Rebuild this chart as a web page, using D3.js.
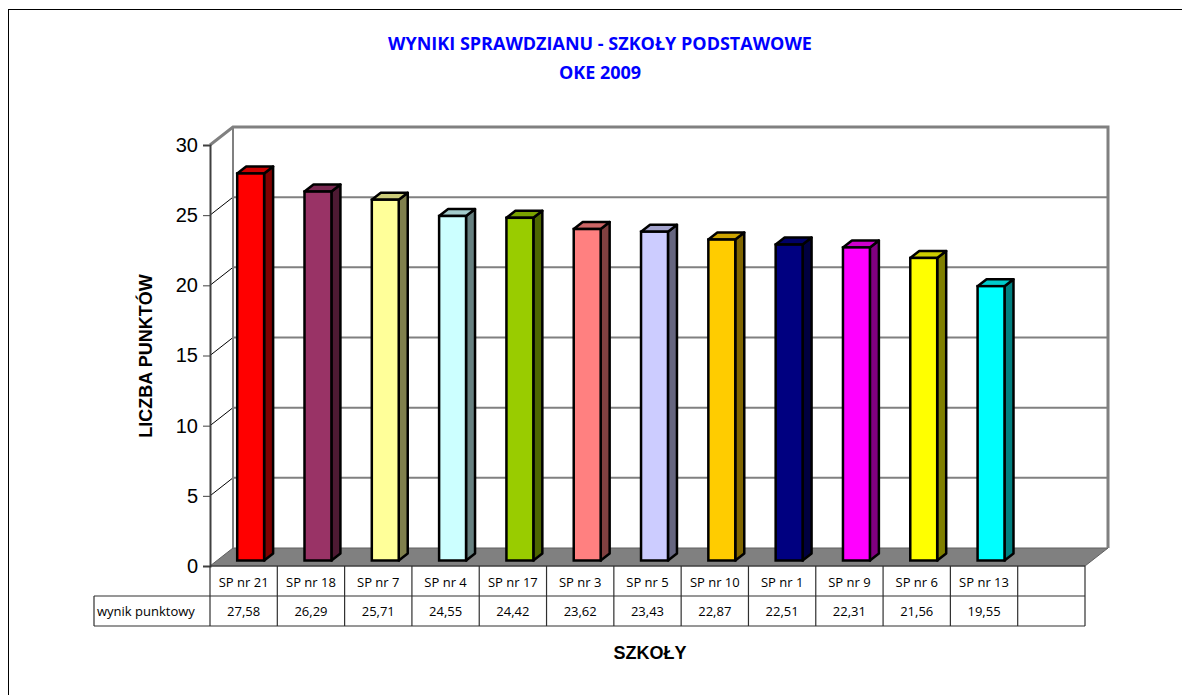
<!DOCTYPE html>
<html>
<head>
<meta charset="utf-8">
<script src="https://d3js.org/d3.v7.min.js"></script>
<style>
  body { margin: 0; background: #fff; }
  svg { display: block; }
</style>
</head>
<body>
<svg id="canvas"></svg>
<script>
// data
const schools = ["SP nr 21", "SP nr 18", "SP nr 7", "SP nr 4", "SP nr 17", "SP nr 3",
                 "SP nr 5", "SP nr 10", "SP nr 1", "SP nr 9", "SP nr 6", "SP nr 13"];
const scores = [27.58, 26.29, 25.71, 24.55, 24.42, 23.62, 23.43, 22.87, 22.51, 22.31, 21.56, 19.55];
const barColors = ["#FF0000", "#993366", "#FFFF99", "#CCFFFF", "#99CC00", "#FF8080",
                   "#CCCCFF", "#FFCC00", "#000080", "#FF00FF", "#FFFF00", "#00FFFF"];
const yTicks = [0, 5, 10, 15, 20, 25, 30];
const rowLabel = "wynik punktowy";

const width = 1182;
const height = 695;

// 3d depth of the plot box and of each bar
const depthX = 23, depthY = -18;
const barDX = 9, barDY = -7;
const barOffX = 7, barOffY = -5.5;

let canvas = d3.select('#canvas')
  .attr('width', width)
  .attr('height', height);

// outer chart border (only top/left visible)
canvas.append('rect')
  .attr('x', 8.5).attr('y', 9.5)
  .attr('width', 1300).attr('height', 800)
  .attr('fill', 'none')
  .attr('stroke', '#000')
  .attr('stroke-width', 1);

let slots = schools.concat([" "]);
let xScale = d3.scaleBand().domain(slots).range([210, 1085]);
let yScale = d3.scaleLinear().domain([0, 30]).range([566, 145]);

let x0 = xScale.range()[0], x1 = xScale.range()[1];
let yTop = yScale(30), yBot = yScale(0);

// floor
canvas.append('path')
  .attr('d', `M${x0},${yBot} L${x1},${yBot} L${x1 + depthX},${yBot + depthY} L${x0 + depthX},${yBot + depthY} Z`)
  .attr('fill', '#808080')
  .attr('stroke', '#606060')
  .attr('stroke-width', 1);

// back wall gridlines
canvas.selectAll('.grid')
  .data(yTicks.filter(d => d > 0 && d < 30))
  .enter()
  .append('line')
  .attr('class', 'grid')
  .attr('x1', x0 + depthX).attr('x2', x1 + depthX)
  .attr('y1', d => yScale(d) + depthY).attr('y2', d => yScale(d) + depthY)
  .attr('stroke', '#808080')
  .attr('stroke-width', 2);

// side wall diagonals
canvas.selectAll('.diag')
  .data(yTicks.filter(d => d > 0 && d < 30))
  .enter()
  .append('line')
  .attr('class', 'diag')
  .attr('x1', x0).attr('x2', x0 + depthX)
  .attr('y1', d => yScale(d)).attr('y2', d => yScale(d) + depthY)
  .attr('stroke', '#000')
  .attr('stroke-width', 1);

// back wall frame
canvas.append('path')
  .attr('d', `M${x0},${yTop} L${x0 + depthX},${yTop + depthY} L${x1 + depthX},${yTop + depthY} L${x1 + depthX},${yBot + depthY}`)
  .attr('fill', 'none')
  .attr('stroke', '#808080')
  .attr('stroke-width', 3);
canvas.append('line')
  .attr('x1', x0 + depthX).attr('x2', x0 + depthX)
  .attr('y1', yTop + depthY).attr('y2', yBot + depthY)
  .attr('stroke', '#808080')
  .attr('stroke-width', 2);

// y axis
let yAxis = d3.axisLeft(yScale).tickValues(yTicks).tickSize(7).tickPadding(5);
let yG = canvas.append('g')
  .attr('transform', `translate(${x0},0)`)
  .call(yAxis);
yG.select('.domain').attr('stroke', '#404040').attr('stroke-width', 2);
yG.selectAll('.tick line').attr('stroke', '#404040').attr('stroke-width', 1);
yG.selectAll('.tick text')
  .attr('font-family', 'Liberation Sans, Arial, sans-serif')
  .attr('font-size', 20)
  .attr('fill', '#000');

// bars
let bw = xScale.bandwidth() * 0.4;
let shade = (c, k) => {
  let r = d3.rgb(c);
  return d3.rgb(r.r * k, r.g * k, r.b * k).formatHex();
};

let bars = canvas.selectAll('.bar')
  .data(schools.map((s, i) => ({ name: s, value: scores[i], color: barColors[i] })))
  .enter()
  .append('g')
  .attr('class', 'bar');

bars.each(function (d) {
  let g = d3.select(this);
  let cx = xScale(d.name) + xScale.bandwidth() / 2 + barOffX;
  let l = cx - bw / 2, r = cx + bw / 2;
  let b = yScale(0) + barOffY, t = yScale(d.value) + barOffY;
  // side
  g.append('path')
    .attr('d', `M${r},${b} L${r + barDX},${b + barDY} L${r + barDX},${t + barDY} L${r},${t} Z`)
    .attr('fill', shade(d.color, 0.5))
    .attr('stroke', '#000').attr('stroke-width', 2.5).attr('stroke-linejoin', 'round');
  // top
  g.append('path')
    .attr('d', `M${l},${t} L${r},${t} L${r + barDX},${t + barDY} L${l + barDX},${t + barDY} Z`)
    .attr('fill', shade(d.color, 0.8))
    .attr('stroke', '#000').attr('stroke-width', 2.5).attr('stroke-linejoin', 'round');
  // front
  g.append('rect')
    .attr('x', l).attr('y', t)
    .attr('width', bw).attr('height', b - t)
    .attr('fill', d.color)
    .attr('stroke', '#000').attr('stroke-width', 2.5);
});

// data table
const row1Top = yBot, row2Top = yBot + 30, row2Bot = yBot + 60;
const labelLeft = 94;
let tbl = canvas.append('g')
  .attr('stroke', '#303030')
  .attr('stroke-width', 1.2)
  .attr('fill', 'none');

tbl.append('line').attr('x1', x0).attr('x2', x1).attr('y1', row1Top).attr('y2', row1Top);
tbl.append('line').attr('x1', labelLeft).attr('x2', x1).attr('y1', row2Top).attr('y2', row2Top);
tbl.append('line').attr('x1', labelLeft).attr('x2', x1).attr('y1', row2Bot).attr('y2', row2Bot);
tbl.append('line').attr('x1', labelLeft).attr('x2', labelLeft).attr('y1', row2Top).attr('y2', row2Bot);
tbl.selectAll('.col')
  .data(slots.concat(["end"]))
  .enter()
  .append('line')
  .attr('x1', d => d === "end" ? x1 : xScale(d))
  .attr('x2', d => d === "end" ? x1 : xScale(d))
  .attr('y1', row1Top).attr('y2', row2Bot);

const tableFont = 'Open Sans, Calibri, sans-serif';
canvas.selectAll('.catLabel')
  .data(schools)
  .enter()
  .append('text')
  .attr('x', d => xScale(d) + xScale.bandwidth() / 2)
  .attr('y', row1Top + 21)
  .attr('text-anchor', 'middle')
  .attr('font-family', tableFont)
  .attr('font-size', 13)
  .text(d => d);

canvas.selectAll('.valLabel')
  .data(schools.map((s, i) => ({ name: s, value: scores[i] })))
  .enter()
  .append('text')
  .attr('x', d => xScale(d.name) + xScale.bandwidth() / 2)
  .attr('y', row2Top + 20)
  .attr('text-anchor', 'middle')
  .attr('font-family', tableFont)
  .attr('font-size', 13)
  .text(d => d.value.toFixed(2).replace('.', ','));

canvas.append('text')
  .attr('x', labelLeft + 3)
  .attr('y', row2Top + 20)
  .attr('font-family', tableFont)
  .attr('font-size', 13)
  .text(rowLabel);

// titles
const titleFont = 'Open Sans, Calibri, sans-serif';
canvas.append('text')
  .attr('x', 600).attr('y', 50)
  .attr('text-anchor', 'middle')
  .attr('font-family', titleFont)
  .attr('font-weight', 'bold')
  .attr('font-size', 18)
  .attr('fill', '#0000FF')
  .text('WYNIKI SPRAWDZIANU - SZKOŁY PODSTAWOWE');
canvas.append('text')
  .attr('x', 600).attr('y', 79)
  .attr('text-anchor', 'middle')
  .attr('font-family', titleFont)
  .attr('font-weight', 'bold')
  .attr('font-size', 18)
  .attr('fill', '#0000FF')
  .text('OKE 2009');

canvas.append('text')
  .attr('transform', 'translate(152,356) rotate(-90)')
  .attr('text-anchor', 'middle')
  .attr('font-family', 'Liberation Sans, Arial, sans-serif')
  .attr('font-weight', 'bold')
  .attr('font-size', 18)
  .text('LICZBA PUNKTÓW');

canvas.append('text')
  .attr('x', 650).attr('y', 659)
  .attr('text-anchor', 'middle')
  .attr('font-family', 'Liberation Sans, Arial, sans-serif')
  .attr('font-weight', 'bold')
  .attr('font-size', 18)
  .text('SZKOŁY');
</script>
</body>
</html>
